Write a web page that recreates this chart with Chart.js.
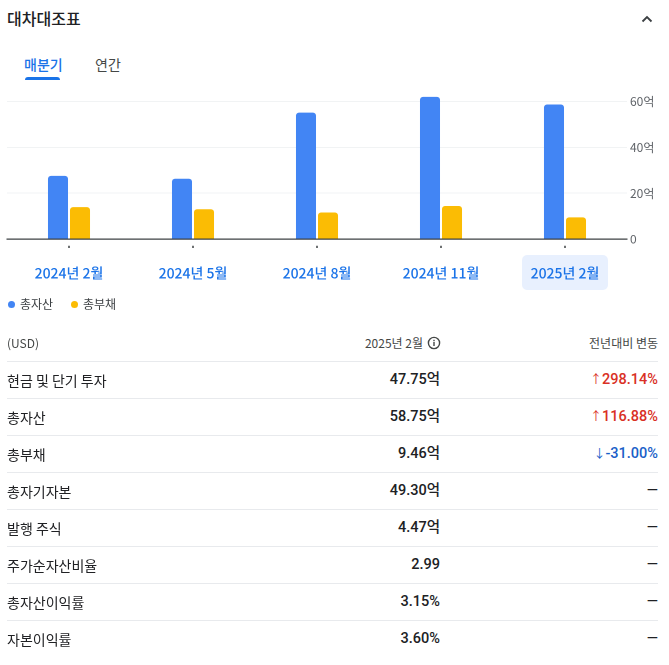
<!DOCTYPE html>
<html><head><meta charset="utf-8">
<script src="https://cdn.jsdelivr.net/npm/chart.js@4.4.1/dist/chart.umd.min.js"></script>
<style>
html,body{margin:0;padding:0;background:#fff;}
body{font-family:"Noto Sans CJK KR","Noto Sans",sans-serif;color:#202124;}
#root{position:relative;width:669px;height:665px;overflow:hidden;}
.abs{position:absolute;white-space:nowrap;}
#chartBox{position:absolute;left:0;top:80px;width:669px;height:219px;}
.line{position:absolute;left:7px;width:651px;height:1px;background:#e8eaed;}
.row{position:absolute;height:20px;line-height:20px;font-size:14px;}
.num{font-family:Roboto,"Noto Sans CJK KR",sans-serif;font-weight:500;font-size:14.5px;}
.dot{position:absolute;width:7px;height:7px;border-radius:50%;}
</style></head><body><div id="root">
<div class="abs" style="left:7px;top:7px;font-size:16px;font-weight:500;line-height:22px;color:#202124;">대차대조표</div>
<svg class="abs" style="left:640px;top:14px;" width="14" height="10" viewBox="0 0 14 10"><polyline points="2.5,7.5 7,3 11.5,7.5" fill="none" stroke="#3c4043" stroke-width="1.8"/></svg>
<div class="abs" style="left:24px;top:54px;font-size:14px;font-weight:500;line-height:20px;color:#1a73e8;">매분기</div>
<div class="abs" style="left:25px;top:77px;width:35px;height:3px;background:#1a73e8;border-radius:3px 3px 0 0;"></div>
<div class="abs" style="left:95px;top:54px;font-size:14px;line-height:20px;color:#444746;">연간</div>
<div id="chartBox"><canvas id="c"></canvas></div>
<div id="legend"></div>
<div id="table"></div>
</div>
<script>
// ---- data ----
const categories = ['2024년 2월', '2024년 5월', '2024년 8월', '2024년 11월', '2025년 2월'];
const totalAssets = [27.6, 26.3, 55.2, 62.1, 58.75];       // 억 USD
const totalLiabilities = [13.9, 13.0, 11.6, 14.4, 9.46];  // 억 USD
const seriesNames = ['총자산', '총부채'];
const seriesColors = ['#4285f4', '#fbbc04'];
const yTickValues = [0, 20, 40, 60];
const yTickLabels = ['0', '20억', '40억', '60억'];
const selectedIndex = 4;

const tableHeader = ['(USD)', '2025년 2월', '전년대비 변동'];
const rowLabels = ['현금 및 단기 투자', '총자산', '총부채', '총자기자본', '발행 주식', '주가순자산비율', '총자산이익률', '자본이익률'];
const rowValues = ['47.75억', '58.75억', '9.46억', '49.30억', '4.47억', '2.99', '3.15%', '3.60%'];
const rowChanges = ['↑298.14%', '↑116.88%', '↓-31.00%', '—', '—', '—', '—', '—'];

const FONT = '"Noto Sans CJK KR", "Noto Sans", sans-serif';
Chart.defaults.font.family = FONT;

// highlight box behind the selected period label
const highlightPlugin = {
  id: 'highlight',
  beforeDraw(chart) {
    const xs = chart.scales.x, ctx = chart.ctx;
    const cx = xs.getPixelForValue(selectedIndex);
    const top = chart.chartArea.bottom + 16, w = 86, h = 35;
    ctx.save();
    ctx.fillStyle = '#e8f0fe';
    ctx.beginPath();
    ctx.roundRect(cx - w / 2, top, w, h, 5);
    ctx.fill();
    ctx.restore();
  }
};

new Chart(document.getElementById('c'), {
  type: 'bar',
  data: {
    labels: categories,
    datasets: [
      { label: seriesNames[0], data: totalAssets, backgroundColor: seriesColors[0],
        borderRadius: 3, borderSkipped: 'start', categoryPercentage: 0.355, barPercentage: 0.91 },
      { label: seriesNames[1], data: totalLiabilities, backgroundColor: seriesColors[1],
        borderRadius: 3, borderSkipped: 'start', categoryPercentage: 0.355, barPercentage: 0.91 }
    ]
  },
  options: {
    responsive: true, maintainAspectRatio: false, animation: false,
    devicePixelRatio: 2,
    layout: { padding: { left: 7, right: 0, top: 4, bottom: 0 } },
    plugins: { legend: { display: false }, tooltip: { enabled: false } },
    scales: {
      x: {
        grid: { display: true, offset: false, drawOnChartArea: false, drawTicks: true,
                tickLength: 9, tickColor: '#3c4043', tickWidth: 1.5, tickBorderDash: [0, 6, 3, 0] },
        border: { display: true, color: '#3c4043', width: 1.3 },
        ticks: { color: '#1a73e8', font: { size: 14, weight: '500' }, padding: 17,
                 maxRotation: 0, autoSkip: false },
        afterFit(s) { s.height = 60; }
      },
      y: {
        position: 'right', min: 0, max: 65,
        afterBuildTicks(s) { s.ticks = yTickValues.map(v => ({ value: v })); },
        grid: { color: '#f1f3f4', drawTicks: false },
        border: { display: false },
        ticks: { color: '#5f6368', font: { size: 12 }, padding: 3,
                 callback: (v) => { const i = yTickValues.indexOf(v); return i >= 0 ? yTickLabels[i] : ''; } },
        afterFit(s) { s.width = 42; }
      }
    }
  },
  plugins: [highlightPlugin]
});

// ---- legend ----
const legend = document.getElementById('legend');
const legendX = [7.5, 70.5];
seriesNames.forEach((n, i) => {
  const d = document.createElement('div');
  d.className = 'dot';
  d.style.left = legendX[i] + 'px'; d.style.top = '300.5px'; d.style.background = seriesColors[i];
  legend.appendChild(d);
  const t = document.createElement('div');
  t.className = 'abs';
  t.style.cssText = `left:${legendX[i] + 12.5}px;top:296px;font-size:12px;line-height:16px;color:#3c4043;`;
  t.textContent = n;
  legend.appendChild(t);
});

// ---- table ----
const table = document.getElementById('table');
function add(html) { table.insertAdjacentHTML('beforeend', html); }
add(`<div class="abs" style="left:7px;top:335px;font-size:12px;line-height:16px;color:#444746;">${tableHeader[0]}</div>`);
add(`<div class="abs" style="right:246px;top:335px;font-size:12px;line-height:16px;color:#444746;">${tableHeader[1]}</div>`);
add(`<svg class="abs" style="left:427px;top:336px;" width="14" height="14" viewBox="0 0 14 14"><circle cx="7" cy="7" r="5.6" fill="none" stroke="#444746" stroke-width="1.4"/><rect x="6.3" y="6" width="1.4" height="4" fill="#444746"/><rect x="6.3" y="3.8" width="1.4" height="1.4" fill="#444746"/></svg>`);
add(`<div class="abs" style="right:11px;top:335px;font-size:12px;line-height:16px;color:#444746;">${tableHeader[2]}</div>`);
for (let i = 0; i < 8; i++) add(`<div class="line" style="top:${361 + 37 * i}px;"></div>`);
rowLabels.forEach((lab, i) => {
  const top = 361 + 37 * i + 18.5 - 10;
  add(`<div class="row" style="left:7px;top:${top}px;color:#202124;">${lab}</div>`);
  add(`<div class="row num" style="right:229px;top:${top}px;color:#202124;text-align:right;">${rowValues[i]}</div>`);
  const ch = rowChanges[i];
  let color = '#202124', html = ch;
  if (ch.startsWith('↑')) { color = '#d93025'; html = `<span style="font-size:12px;font-weight:400;">↑</span>${ch.slice(1)}`; }
  else if (ch.startsWith('↓')) { color = '#1a5fc8'; html = `<span style="font-size:12px;font-weight:400;">↓</span>${ch.slice(1)}`; }
  add(`<div class="row num" style="right:11px;top:${top}px;color:${color};text-align:right;">${html}</div>`);
});
</script>
</body></html>
